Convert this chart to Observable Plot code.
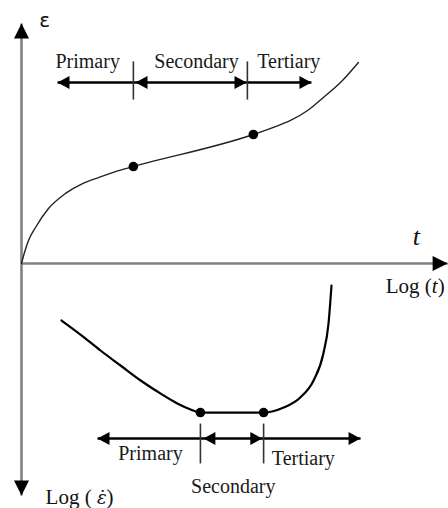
<!DOCTYPE html>
<html>
<head>
<meta charset="utf-8">
<script src="https://cdn.jsdelivr.net/npm/d3@7"></script>
<script src="https://cdn.jsdelivr.net/npm/@observablehq/plot@0.6"></script>
<style>
  html, body { margin: 0; padding: 0; background: #fff; }
  #chart svg { display: block; }
</style>
</head>
<body>
<div id="chart"></div>
<script>
// Schematic creep curves, abstract units: x = log time (0..100), y = strain (+) / strain rate (-)
const strainCurve = [
  [0, 0], [0.7, 4.6], [1.64, 9.6], [3.28, 15], [6.32, 22.9], [10.3, 29.2], [14.3, 33.3],
  [18.0, 35.8], [22.0, 38.3], [26.2, 40.4], [54.3, 53.75], [59.0, 56.7], [63.0, 59.6],
  [67.0, 63.75], [70.7, 69.2], [74.7, 75.4], [78.9, 83.75]
];
const strainDots = [[26.2, 40.4], [54.3, 53.75]];

const rateCurve = [
  [9.37, -23.75], [13.8, -29.6], [18.5, -36.25], [23.2, -42.5], [27.9, -48.75], [32.6, -54.2],
  [36.5, -58.3], [39.6, -60.8], [41.9, -62.1], [56.7, -62.1], [61.4, -60], [65.3, -55.8],
  [68.4, -48.75], [70.7, -37.5], [71.9, -25], [72.6, -9.17]
];
const rateDots = [[41.9, -62.1], [56.7, -62.1]];

// axes: [x1, y1, x2, y2]
const axisLines = [[0, 0, 99.8, 0], [0, 100, 0, -96.7]];
// axis arrow heads: [x, y, angle]
const axisHeads = [[0, 100, 0], [0, -96.7, 180], [99.8, 0, 90]];

// stage arrows: [x1, y1, x2, y2]
const stageLines = [
  [8.43, 75.4, 67.9, 75.4],
  [17.8, -72.9, 79.4, -72.9]
];
const stageTicks = [
  [26.2, 84.2, 26.2, 68.3], [52.9, 84.2, 52.9, 68.3],
  [41.9, -66.7, 41.9, -83.3], [56.7, -66.7, 56.7, -83.3]
];
const stageHeads = [
  [8.43, 75.4, -90], [26.7, 75.4, -90], [52.7, 75.4, 90], [67.9, 75.4, 90],
  [17.8, -72.9, -90], [42.6, -72.9, -90], [56.4, -72.9, 90], [79.4, -72.9, 90]
];

// stage labels: [x, y, text]
const stageLabels = [
  [15.5, 84.2, "Primary"], [41.0, 84.2, "Secondary"], [62.6, 84.2, "Tertiary"],
  [30.2, -79.2, "Primary"], [66.0, -81.25, "Tertiary"], [49.6, -92.9, "Secondary"]
];
const axisLabels = [[92.2, -9.6, "Log (t)"], [13.6, -97.5, "Log (\u00A0\u03B5\u0307)"]];
const epsLabel = [[5.4, 101.25, "\u03B5"]];
const tLabel = [[92.5, 11.25, "t"]];

function head(L, W) {
  return { draw(ctx) { ctx.moveTo(0, 0); ctx.lineTo(W / 2, L); ctx.lineTo(-W / 2, L); ctx.closePath(); } };
}

const serif = "'Liberation Serif', 'Times New Roman', serif";

const chart = Plot.plot({
  width: 448,
  height: 508,
  margin: 0,
  x: { domain: [0, 100], range: [21, 448], axis: null },
  y: { domain: [-100, 100], range: [503, 23], axis: null },
  marks: [
    Plot.link(axisLines, { x1: d => d[0], y1: d => d[1], x2: d => d[2], y2: d => d[3], stroke: "#808080", strokeWidth: 2.6 }),
    Plot.dot(axisHeads, { x: d => d[0], y: d => d[1], rotate: d => d[2], symbol: head(15, 15), r: 5, fill: "#000", stroke: "none" }),
    Plot.line(strainCurve, { x: d => d[0], y: d => d[1], curve: "monotone-x", stroke: "#222", strokeWidth: 1.4 }),
    Plot.line(rateCurve, { x: d => d[0], y: d => d[1], curve: "monotone-x", stroke: "#000", strokeWidth: 2.2 }),
    Plot.dot(strainDots, { x: d => d[0], y: d => d[1], r: 4.8, fill: "#000", stroke: "none" }),
    Plot.dot(rateDots, { x: d => d[0], y: d => d[1], r: 4.8, fill: "#000", stroke: "none" }),
    Plot.link(stageLines, { x1: d => d[0], y1: d => d[1], x2: d => d[2], y2: d => d[3], stroke: "#000", strokeWidth: 2.6 }),
    Plot.link(stageTicks, { x1: d => d[0], y1: d => d[1], x2: d => d[2], y2: d => d[3], stroke: "#333", strokeWidth: 1.6 }),
    Plot.dot(stageHeads, { x: d => d[0], y: d => d[1], rotate: d => d[2], symbol: head(12, 13), r: 5, fill: "#000", stroke: "none" }),
    Plot.text(stageLabels, { x: d => d[0], y: d => d[1], text: d => d[2], fontFamily: serif, fontSize: 20, fill: "#1a1a1a" }),
    Plot.text(axisLabels, { x: d => d[0], y: d => d[1], text: d => d[2], fontFamily: serif, fontSize: 21, fill: "#111", className: "axislab" }),
    Plot.text(epsLabel, { x: d => d[0], y: d => d[1], text: d => d[2], fontFamily: "'DejaVu Sans', sans-serif", fontSize: 20, fill: "#111" }),
    Plot.text(tLabel, { x: d => d[0], y: d => d[1], text: d => d[2], fontFamily: serif, fontStyle: "italic", fontSize: 26, fill: "#111" })
  ]
});

// italicise the variables inside the axis labels
d3.select(chart).selectAll("g.axislab text").each(function () {
  const s = this.textContent;
  const m = s.match(/^(Log \(\u00A0?)(.+)(\))$/);
  if (!m) return;
  const el = d3.select(this);
  el.text(null);
  el.append("tspan").text(m[1]);
  const v = el.append("tspan").attr("font-style", "italic").text(m[2]);
  if (m[2].length > 1) v.attr("font-family", "'DejaVu Serif', serif").attr("font-size", 18);
  el.append("tspan").text(m[3]);
});

document.getElementById("chart").appendChild(chart);
</script>
</body>
</html>
